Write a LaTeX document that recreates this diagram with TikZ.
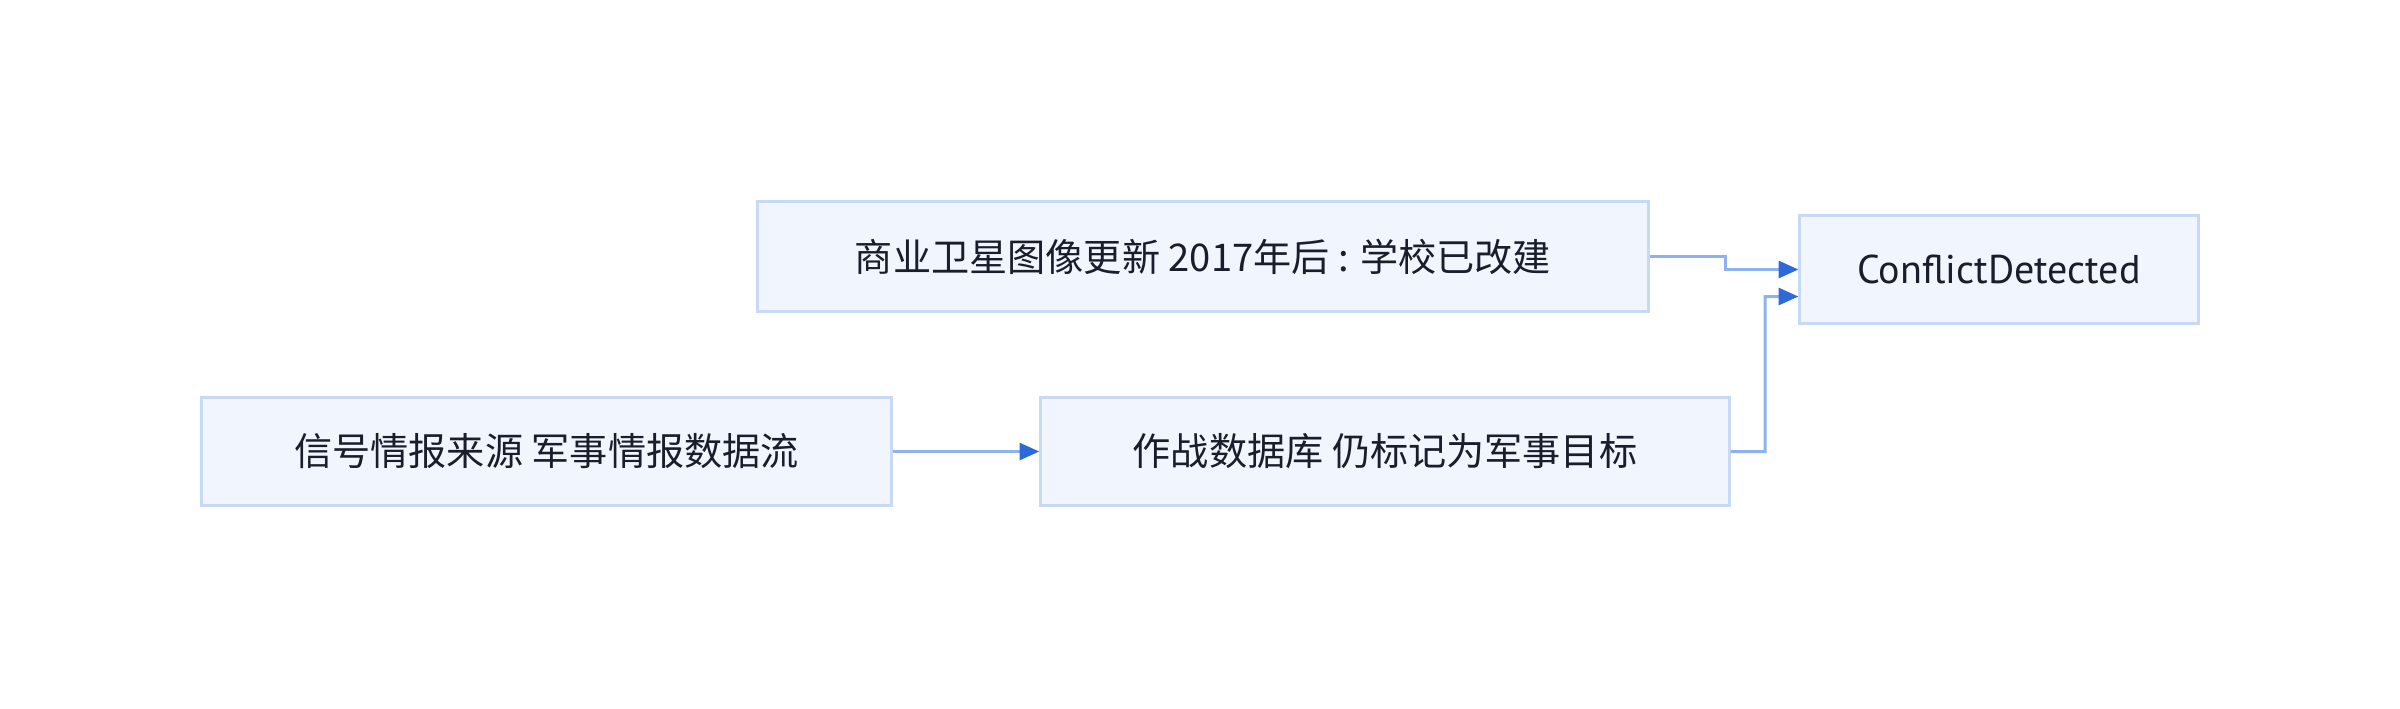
\documentclass[tikz,border=0pt]{standalone}
\usepackage{fontspec}
\setmainfont{Noto Sans CJK SC}
\newfontfamily\latinfont{PT Sans}
\usetikzlibrary{arrows.meta}
\definecolor{boxfill}{HTML}{F0F5FE}
\definecolor{boxline}{HTML}{C8D9F5}
\definecolor{wire}{HTML}{8CB2F2}
\definecolor{tipc}{HTML}{2E69D9}
\definecolor{txt}{HTML}{1A1D2B}
\tikzset{
  box/.style={draw=boxline, fill=boxfill, line width=0.85pt, rectangle, inner sep=0pt,
    text=txt, font=\fontsize{10.85pt}{12pt}\selectfont, anchor=center},
  wirestyle/.style={draw=wire, line width=0.85pt,
    -{Triangle[length=5.6pt,width=4.8pt,color=tipc,fill=tipc]}},
}
\begin{document}
\begin{tikzpicture}[x=0.01cm,y=-0.01cm]
\useasboundingbox (0,0) rectangle (2400,708);
\node[box, minimum width=8.9cm, minimum height=1.09cm] (sat) at (1203,256.5) {商业卫星图像更新 2017年后 : 学校已改建};
\node[box, minimum width=3.98cm, minimum height=1.07cm, font=\latinfont\fontsize{11.4pt}{12pt}\selectfont] (cd) at (1999,269.5) {ConflictDetected};
\node[box, minimum width=6.89cm, minimum height=1.07cm] (sig) at (546.5,451.5) {信号情报来源 军事情报数据流};
\node[box, minimum width=6.88cm, minimum height=1.07cm] (db) at (1385,451.5) {作战数据库 仍标记为军事目标};
\coordinate (cdA) at ([yshift=0.0cm]cd.west);
\coordinate (cdB) at ([yshift=-0.27cm]cd.west);
\draw[wirestyle] (sat.east) -- (1725,256.5) -- (1725,269.5) -- (cdA);
\draw[wirestyle] (db.east) -- (1765,451.5) -- (1765,296.5) -- (cdB);
\draw[wirestyle] (sig.east) -- (db.west);
\end{tikzpicture}
\end{document}
